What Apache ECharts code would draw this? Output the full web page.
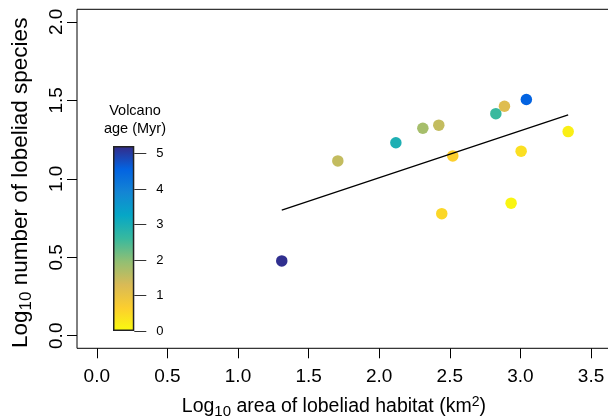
<!DOCTYPE html>
<html>
<head>
<meta charset="utf-8">
<script src="https://cdn.jsdelivr.net/npm/echarts@6/dist/echarts.min.js"></script>
<style>
html,body{margin:0;padding:0;background:#fff;}
#chart{width:608px;height:419px;}
</style>
</head>
<body>
<div id="chart"></div>
<script>
// ---- data ----
const habitatArea  = [1.310, 1.707, 2.118, 2.309, 2.422, 2.521, 2.443, 2.826, 2.887, 3.042, 3.005, 2.934, 3.338];
const speciesCount = [0.477, 1.114, 1.230, 1.322, 1.342, 1.146, 0.778, 1.415, 1.462, 1.505, 1.176, 0.845, 1.301];
const volcanoAge   = [5.15, 1.50, 2.95, 1.77, 1.50, 0.63, 0.52, 2.60, 1.20, 4.56, 0.41, 0.09, 0.17];
const fitX = [1.310, 3.338];
const fitY = [0.800, 1.408];
const xTicks = [0, 0.5, 1.0, 1.5, 2.0, 2.5, 3.0, 3.5];
const yTicks = [0, 0.5, 1.0, 1.5, 2.0];
const ageTicks = [0, 1, 2, 3, 4, 5];
const ageMax = 5.21;
const parula = ['#352a87', '#0363e1', '#1485d4', '#06a7c6', '#38b99e', '#92bf73', '#d9ba56', '#fcce2e', '#f9fb0e'];

const FONT = 'Liberation Sans';
const ageColors = parula.slice().reverse(); // 0 Myr yellow -> old indigo

const pts = habitatArea.map((x, i) => [x, speciesCount[i], volcanoAge[i]]);
const fitLine = fitX.map((x, i) => [x, fitY[i]]);

const gradStops = ageColors.map((c, i) => ({ offset: 1 - i / (ageColors.length - 1), color: c }));

const richX = {
  n:   { fontSize: 19.5, fontFamily: FONT, color: '#000' },
  sub: { fontSize: 15, fontFamily: FONT, color: '#000', padding: [10, 0, 0, 0] },
  sup: { fontSize: 14, fontFamily: FONT, color: '#000', padding: [0, 0, 10, 0] }
};
const richY = {
  n:   { fontSize: 22.5, fontFamily: FONT, color: '#000' },
  sub: { fontSize: 17, fontFamily: FONT, color: '#000', padding: [11, 0, 0, 0] }
};

const chart = echarts.init(document.getElementById('chart'), null, { renderer: 'canvas' });
chart.setOption({
  animation: false,
  backgroundColor: '#fff',
  textStyle: { fontFamily: FONT },
  grid: [
    { left: 77, top: 9.3, width: 533.8, height: 339, show: true, borderColor: '#000', borderWidth: 1,
      backgroundColor: 'transparent', containLabel: false, outerBoundsMode: 'none' },
    { left: 113, top: 146, width: 21.3, height: 185, containLabel: false, outerBoundsMode: 'none' }
  ],
  xAxis: [
    {
      type: 'value', gridIndex: 0, min: -0.14, max: 3.64,
      splitLine: { show: false },
      axisLine: { show: false, onZero: false },
      axisTick: { show: true, inside: false, length: 10, lineStyle: { color: '#000' }, customValues: xTicks },
      axisLabel: { customValues: xTicks, formatter: v => v.toFixed(1), fontSize: 19, color: '#000', margin: 19, fontFamily: FONT },
      name: '{n|Log}{sub|10}{n| area of lobeliad habitat (km}{sup|2}{n|)}',
      nameLocation: 'middle', nameGap: 46,
      nameTextStyle: { rich: richX, padding: [0, 20, 0, 0] }
    },
    { type: 'category', gridIndex: 1, data: ['bar'], show: false }
  ],
  yAxis: [
    {
      type: 'value', gridIndex: 0, min: -0.08, max: 2.08,
      splitLine: { show: false },
      axisLine: { show: false, onZero: false },
      axisTick: { show: true, inside: false, length: 10, lineStyle: { color: '#000' }, customValues: yTicks },
      axisLabel: { customValues: yTicks, formatter: v => v.toFixed(1), fontSize: 19, color: '#000', margin: 11, rotate: 90, fontFamily: FONT },
      name: '{n|Log}{sub|10}{n| number of lobeliad species}',
      nameLocation: 'middle', nameGap: 42,
      nameTextStyle: { rich: richY, padding: [0, 8, 0, 0] }
    },
    {
      type: 'value', gridIndex: 1, min: 0, max: ageMax, position: 'right',
      splitLine: { show: false },
      axisLine: { show: false, onZero: false },
      axisTick: { show: true, inside: false, length: 12, lineStyle: { color: '#333' }, customValues: ageTicks },
      axisLabel: { customValues: ageTicks, fontSize: 13, color: '#000', margin: 22, fontFamily: FONT }
    }
  ],
  visualMap: {
    type: 'continuous', show: false, min: 0, max: ageMax,
    dimension: 2, seriesIndex: 0,
    inRange: { color: ageColors }
  },
  graphic: [
    { type: 'text', x: 135, y: 102, style: { text: 'Volcano\nage (Myr)', textAlign: 'center', fontSize: 14.5, lineHeight: 18, fontFamily: FONT, fill: '#000' } }
  ],
  series: [
    {
      type: 'scatter', xAxisIndex: 0, yAxisIndex: 0,
      data: pts, symbolSize: 11.5, z: 2,
      itemStyle: { opacity: 1 }
    },
    {
      type: 'line', xAxisIndex: 0, yAxisIndex: 0,
      data: fitLine, symbol: 'none', z: 3,
      lineStyle: { color: '#000', width: 1.3 }
    },
    {
      type: 'bar', xAxisIndex: 1, yAxisIndex: 1,
      data: [ageMax], barWidth: '100%',
      itemStyle: {
        color: new echarts.graphic.LinearGradient(0, 0, 0, 1, gradStops),
        borderColor: '#222', borderWidth: 1.5
      }
    }
  ]
});
</script>
</body>
</html>
